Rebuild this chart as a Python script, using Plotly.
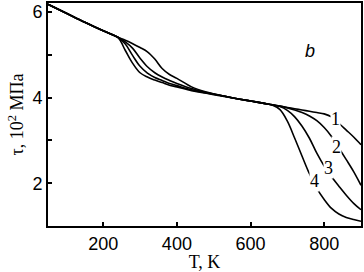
import plotly.graph_objects as go

T = [50, 100, 150, 200, 240, 260, 280, 300, 320, 340, 360, 380, 400, 440, 480,
     520, 560, 600, 640, 660, 680, 700, 720, 740, 760, 780, 800, 820, 840, 860, 880, 900]

tau1 = [6.18, 5.97, 5.76, 5.56, 5.41, 5.34, 5.26, 5.17, 5.07, 4.90, 4.68, 4.54, 4.45, 4.25, 4.13,
        4.05, 3.98, 3.92, 3.86, 3.83, 3.80, 3.77, 3.74, 3.71, 3.68, 3.65, 3.62, 3.55, 3.40, 3.24, 3.08, 2.90]
tau2 = [6.18, 5.97, 5.76, 5.56, 5.41, 5.30, 5.15, 4.92, 4.72, 4.58, 4.48, 4.40, 4.33, 4.21, 4.12,
        4.05, 3.98, 3.92, 3.86, 3.83, 3.80, 3.76, 3.71, 3.65, 3.57, 3.46, 3.30, 3.09, 2.82, 2.55, 2.27, 1.95]
tau3 = [6.18, 5.97, 5.76, 5.56, 5.41, 5.25, 4.98, 4.73, 4.57, 4.47, 4.40, 4.33, 4.28, 4.18, 4.11,
        4.05, 3.98, 3.92, 3.86, 3.83, 3.79, 3.70, 3.55, 3.33, 3.05, 2.70, 2.40, 2.15, 1.93, 1.72, 1.53, 1.38]
tau4 = [6.18, 5.97, 5.76, 5.56, 5.40, 5.10, 4.80, 4.58, 4.48, 4.41, 4.35, 4.29, 4.25, 4.16, 4.10,
        4.04, 3.98, 3.92, 3.86, 3.82, 3.72, 3.45, 3.05, 2.63, 2.22, 1.88, 1.62, 1.41, 1.28, 1.20, 1.15, 1.11]

curve_labels = ["1", "2", "3", "4"]
label_T = [830, 833, 811, 775]
label_tau = [3.51, 2.84, 2.35, 2.06]

x_ticks = [200, 400, 600, 800]
y_ticks = [2, 4, 6]

fig = go.Figure()
for ys in [tau1, tau2, tau3, tau4]:
    fig.add_trace(go.Scatter(x=T, y=ys, mode="lines", line=dict(color="black", width=1.6, shape="spline"),
                             showlegend=False, hoverinfo="skip"))

for lab, lx, ly in zip(curve_labels, label_T, label_tau):
    fig.add_annotation(x=lx, y=ly, text=lab, showarrow=False, bgcolor="white", borderpad=0,
                       font=dict(family="Liberation Serif", size=18, color="black"))

fig.add_annotation(x=0.86, y=0.84, xref="paper", yref="paper", text="<i>b</i>", showarrow=False,
                   font=dict(family="Liberation Sans", size=18, color="black"))

fig.update_layout(
    width=364, height=272,
    margin=dict(l=48, r=1, t=1, b=46),
    paper_bgcolor="white", plot_bgcolor="white",
    font=dict(family="Liberation Sans", size=18, color="black"),
)
fig.update_xaxes(range=[50, 900], tickvals=x_ticks, ticks="inside", ticklen=4, tickwidth=1.5,
                 tickcolor="black", showgrid=False, zeroline=False, showline=True, linecolor="black",
                 linewidth=2, mirror=True,
                 title=dict(text="T, K", font=dict(family="Liberation Serif", size=18), standoff=2))
fig.update_yaxes(range=[1, 6.21], tickvals=y_ticks, ticks="inside", ticklen=4, tickwidth=1.5,
                 tickcolor="black", showgrid=False, zeroline=False, showline=True, linecolor="black",
                 linewidth=2, mirror=True,
                 minor=dict(tickvals=[3, 5], ticks="inside", ticklen=4, tickcolor="black", tickwidth=1.5),
                 title=dict(text="τ, 10<sup>2</sup> МПа", font=dict(family="Liberation Serif", size=18), standoff=4))

fig.write_html("out.html", config={"displayModeBar": False},
               post_script="document.body.style.margin='0';document.body.style.overflow='hidden';")
